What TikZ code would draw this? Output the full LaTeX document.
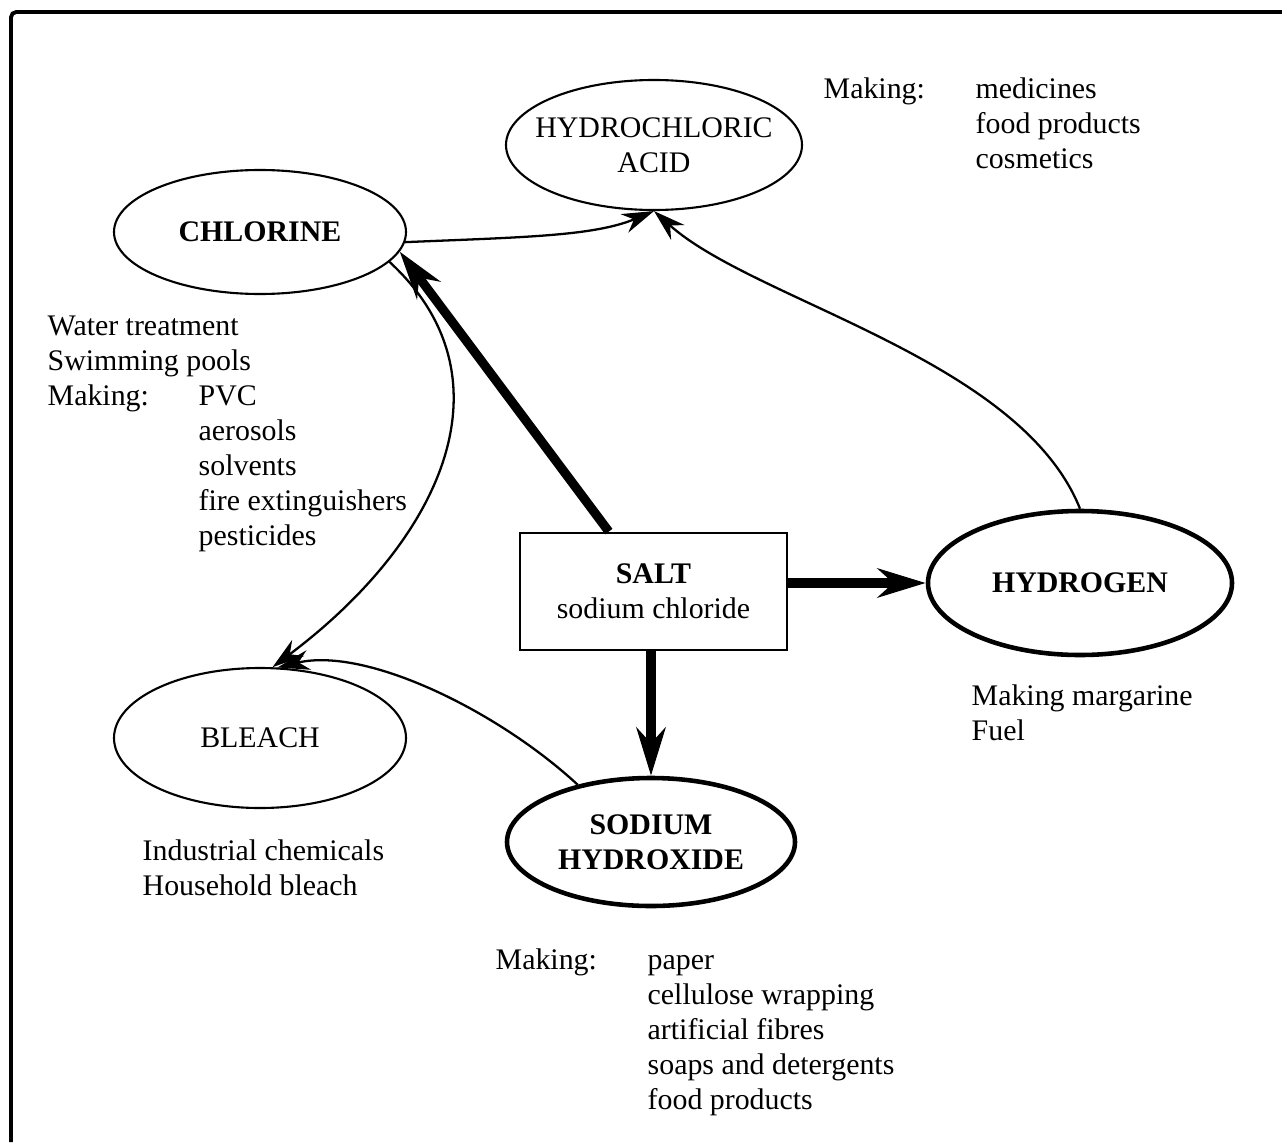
\documentclass[tikz,border=0pt]{standalone}
\usepackage{fontspec}
\setmainfont{Liberation Serif}
\usetikzlibrary{arrows.meta,shapes.geometric}

\begin{document}
\begin{tikzpicture}[
	textsize/.style={font=\fontsize{8.5}{9.96}\selectfont},
	caption/.style={textsize, align=center, inner sep=0pt},
	boldcaption/.style={caption, font=\fontsize{8.5}{9.96}\selectfont\bfseries},
	blob/.style={ellipse, draw, line width=0.6pt, inner sep=0pt},
	heavyblob/.style={blob, line width=1.3pt},
	uses/.style={textsize, align=left, inner sep=0pt, anchor=north west},
	feed/.style={line width=0.65pt, -{Stealth[length=3.2mm, width=2mm]}},
	fat/.style={line width=2.6pt, -{Stealth[length=4.8mm, width=2.9mm]}}
]
			\useasboundingbox (0,0) rectangle (12.82,11.42);
			\draw[line width=1.1pt, rounded corners=1.5pt] (0.11,0) |- (12.82,11.30);

			\draw (6.54,9.97) node [blob, minimum width=2.96cm, minimum height=1.30cm, label={[caption]center:HYDROCHLORIC\\ACID}] (hcl) {};
			\draw (2.60,9.10) node [blob, minimum width=2.92cm, minimum height=1.24cm, label={[boldcaption]center:CHLORINE}] (chlorine) {};
			\draw (10.80,5.59) node [heavyblob, minimum width=3.04cm, minimum height=1.44cm, label={[boldcaption]center:HYDROGEN}] (hydrogen) {};
			\draw (2.60,4.04) node [blob, minimum width=2.92cm, minimum height=1.40cm, label={[caption]center:BLEACH}] (bleach) {};
			\draw (6.51,3.00) node [heavyblob, minimum width=2.88cm, minimum height=1.28cm, label={[boldcaption]center:SODIUM\\HYDROXIDE}] (naoh) {};
			\draw (6.535,5.505) node [draw, line width=0.8pt, minimum width=2.67cm, minimum height=1.17cm, caption] (salt) {\textbf{SALT}\\sodium chloride};

			\draw (8.23,10.65) node [uses] (hclnote) {\makebox[1.52cm][l]{Making:}medicines\\\hspace*{1.52cm}food products\\\hspace*{1.52cm}cosmetics};
			\draw (0.47,8.27) node [uses] (chlorinenote) {Water treatment\\Swimming pools\\\makebox[1.51cm][l]{Making:}PVC\\\hspace*{1.51cm}aerosols\\\hspace*{1.51cm}solvents\\\hspace*{1.51cm}fire extinguishers\\\hspace*{1.51cm}pesticides};
			\draw (9.71,4.58) node [uses] (hydrogennote) {Making margarine\\Fuel};
			\draw (1.42,3.03) node [uses] (bleachnote) {Industrial chemicals\\Household bleach};
			\draw (4.95,1.94) node [uses] (naohnote) {\makebox[1.52cm][l]{Making:}paper\\\hspace*{1.52cm}cellulose wrapping\\\hspace*{1.52cm}artificial fibres\\\hspace*{1.52cm}soaps and detergents\\\hspace*{1.52cm}food products};

			\path[fat] (salt) edge (chlorine.-8)
			(salt.east |- hydrogen.west) edge (hydrogen.west)
			(salt.south -| naoh.north) edge (naoh.north);

			\draw[feed] (chlorine.-4) .. controls +(1.2,0.05) and +(-0.6,-0.25) .. (hcl.south);
			\draw[feed] (hydrogen.north) .. controls +(-0.6,1.5) and +(1.0,-0.9) .. (hcl.south);
			\draw[feed] (chlorine.-13) .. controls +(1.27,-1.17) and +(1.68,1.26) .. (bleach.80);
			\draw[feed] (naoh.142) .. controls +(-0.8,0.74) and +(0.88,0.21) .. (bleach.76);
		\end{tikzpicture}
\end{document}
